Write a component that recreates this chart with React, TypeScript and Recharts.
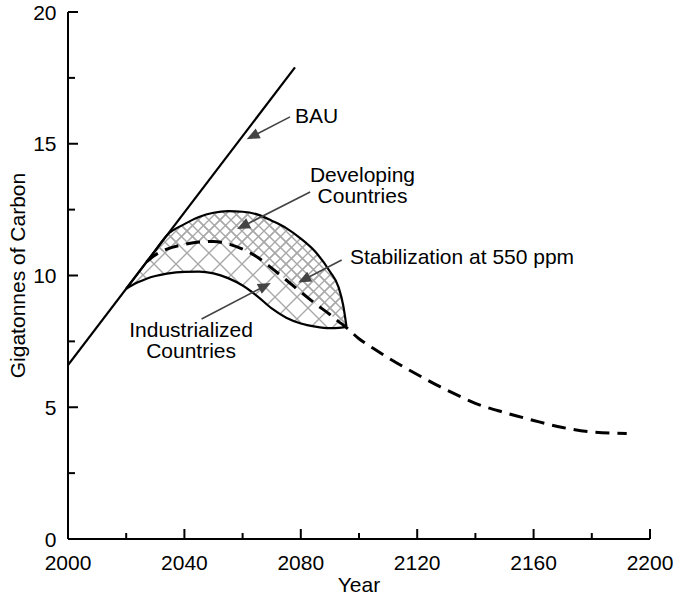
import React from 'react';
import { ComposedChart, Line, Area, XAxis, YAxis, ReferenceLine, ReferenceDot } from 'recharts';

const FONT = '"Liberation Sans", Arial, Helvetica, sans-serif';

// Business-as-usual line
const bauYears = [2000, 2078];
const bauValues = [6.6, 17.9];

// Band between industrialized (lower) and developing (upper) curves
const bandYears = [2020, 2024, 2027, 2030, 2034, 2040, 2045, 2050, 2055, 2060, 2065, 2070, 2075, 2080, 2085, 2090, 2093, 2094.6, 2095.7];
const industrialized = [9.5, 9.74, 9.88, 9.98, 10.07, 10.14, 10.15, 10.08, 9.9, 9.62, 9.22, 8.75, 8.4, 8.18, 8.06, 8.0, 8.01, 8.03, 8.06];
const developing = [9.5, 10.08, 10.52, 10.95, 11.53, 11.95, 12.22, 12.38, 12.44, 12.42, 12.32, 12.08, 11.8, 11.4, 10.9, 10.15, 9.55, 8.85, 8.06];

// Stabilization at 550 ppm (dashed)
const stabYears = [2027, 2030, 2034, 2040, 2045, 2050, 2055, 2060, 2065, 2070, 2075, 2080, 2085, 2090, 2093, 2094.6, 2095.7, 2100, 2105, 2110, 2116, 2122, 2128, 2134, 2140, 2150, 2160, 2170, 2180, 2192];
const stabilization = [10.52, 10.78, 11.0, 11.18, 11.27, 11.29, 11.2, 11.0, 10.7, 10.28, 9.83, 9.37, 8.93, 8.52, 8.25, 8.12, 8.02, 7.6, 7.23, 6.88, 6.49, 6.12, 5.77, 5.45, 5.15, 4.8, 4.5, 4.23, 4.06, 4.0];

// Tick values
const xTicks = [2000, 2020, 2040, 2060, 2080, 2100, 2120, 2140, 2160, 2180, 2200];
const yTicks = [0, 2.5, 5, 7.5, 10, 12.5, 15, 17.5, 20];

// Annotations (data coordinates)
const arrowFrom = [[2076.3, 16.02], [2083.2, 13.17], [2094.05, 10.59], [2045.9, 8.35]];
const arrowTo = [[2061.4, 15.17], [2058.1, 11.76], [2079.1, 9.73], [2069.7, 9.72]];
const labelLines = [['BAU'], ['Developing', 'Countries'], ['Stabilization at 550 ppm'], ['Industrialized', 'Countries']];
const labelAt = [[2078.0, 15.79], [2101.2, 13.55], [2096.9, 10.42], [2042.3, 7.67]];
const labelAnchor = ['start', 'middle', 'start', 'middle'];

const bauData = bauYears.map((year, i) => ({ year, v: bauValues[i] }));
const indData = bandYears.map((year, i) => ({ year, v: industrialized[i] }));
const devData = bandYears.map((year, i) => ({ year, v: developing[i] }));
const stabData = stabYears.map((year, i) => ({ year, v: stabilization[i] }));
const bandData = bandYears.map((year, i) => ({ year, range: [industrialized[i], developing[i]] }));
const upperBandData = stabYears
  .map((year, i) => ({ year, idx: bandYears.indexOf(year), s: stabilization[i] }))
  .filter((d) => d.idx >= 0)
  .map((d) => ({ year: d.year, range: [Math.min(d.s, developing[d.idx]), developing[d.idx]] }));

const isMajorX = (v: number) => (v - 2000) % 40 === 0;
const isMajorY = (v: number) => v % 5 === 0;

const BottomTick = (p: any) => {
  const { x, y, payload } = p;
  const v = payload.value;
  const major = isMajorX(v);
  return (
    <g>
      <line x1={x} y1={y} x2={x} y2={y - (major ? 10 : 6)} stroke="#000" strokeWidth={2} />
      {major && (
        <text x={x} y={y + 31} textAnchor="middle" fontSize={21} fontFamily={FONT} fill="#000">{v}</text>
      )}
    </g>
  );
};
const TopTick = (p: any) => {
  const { x, y, payload } = p;
  const major = isMajorX(payload.value);
  return <line x1={x} y1={y} x2={x} y2={y + (major ? 10 : 6)} stroke="#000" strokeWidth={2} />;
};
const LeftTick = (p: any) => {
  const { x, y, payload } = p;
  const v = payload.value;
  const major = isMajorY(v);
  return (
    <g>
      <line x1={x} y1={y} x2={x + (major ? 10 : 7)} y2={y} stroke="#000" strokeWidth={2} />
      {major && (
        <text x={x - 11.5} y={y + 7.5} textAnchor="end" fontSize={21} fontFamily={FONT} fill="#000">{v}</text>
      )}
    </g>
  );
};
const RightTick = (p: any) => {
  const { x, y, payload } = p;
  const major = isMajorY(payload.value);
  return <line x1={x} y1={y} x2={x - (major ? 10 : 6)} y2={y} stroke="#000" strokeWidth={2} />;
};

const XLabel = (p: any) => {
  const vb = p.viewBox || { x: 68, y: 539, width: 582, height: 60 };
  return (
    <text x={vb.x + vb.width / 2} y={vb.y + 53} textAnchor="middle" fontSize={21} fontFamily={FONT} fill="#000">Year</text>
  );
};
const YLabel = (p: any) => {
  const vb = p.viewBox || { x: 0, y: 12, width: 68, height: 527 };
  const cx = vb.x + 25;
  const cy = vb.y + vb.height / 2;
  return (
    <text x={cx} y={cy} transform={`rotate(-90, ${cx}, ${cy})`} textAnchor="middle" fontSize={21} fontFamily={FONT} fill="#000">
      Gigatonnes of Carbon
    </text>
  );
};

const Arrow = (p: any) => {
  const { x1, y1, x2, y2 } = p;
  const dx = x2 - x1;
  const dy = y2 - y1;
  const L = Math.hypot(dx, dy) || 1;
  const ux = dx / L;
  const uy = dy / L;
  const hl = 13;
  const hw = 5.5;
  const bx = x2 - ux * hl;
  const by = y2 - uy * hl;
  const pts = `${x2},${y2} ${bx - uy * hw},${by + ux * hw} ${bx + uy * hw},${by - ux * hw}`;
  return (
    <g>
      <line x1={x1} y1={y1} x2={bx + ux * 2} y2={by + uy * 2} stroke="#444" strokeWidth={1.6} />
      <polygon points={pts} fill="#444" />
    </g>
  );
};

const makeLabel = (i: number) => (p: any) => (
  <text x={p.cx} y={p.cy} textAnchor={labelAnchor[i] as any} fontSize={21} fontFamily={FONT} fill="#000">
    {labelLines[i].map((t, k) => (
      <tspan key={k} x={p.cx} dy={k === 0 ? 0 : 21}>{t}</tspan>
    ))}
  </text>
);

export default function App() {
  return (
    <div style={{ position: 'absolute', left: 0, top: 0, width: 678, height: 599, background: '#fff' }}>
      <ComposedChart width={678} height={599} margin={{ top: 12, right: 28, bottom: 0, left: 0 }}>
        <defs>
          <pattern id="hatchA" patternUnits="userSpaceOnUse" width="22" height="22">
            <path d="M-5,-5 L27,27 M27,-5 L-5,27" stroke="#a8a8a8" strokeWidth={1.4} />
          </pattern>
          <pattern id="hatchB" patternUnits="userSpaceOnUse" width="11" height="11">
            <path d="M-5,-5 L16,16 M16,-5 L-5,16" stroke="#a8a8a8" strokeWidth={1.4} />
          </pattern>
        </defs>
        <XAxis
          xAxisId="b"
          dataKey="year"
          type="number"
          domain={[2000, 2200]}
          ticks={xTicks}
          interval={0}
          height={60}
          tickSize={0}
          tickMargin={0}
          tickLine={false}
          allowDataOverflow
          axisLine={{ stroke: '#000', strokeWidth: 2 }}
          tick={BottomTick}
          label={<XLabel />}
        />
        <XAxis
          xAxisId="t"
          orientation="top"
          dataKey="year"
          type="number"
          domain={[2000, 2200]}
          ticks={xTicks}
          interval={0}
          height={0}
          tickSize={0}
          tickMargin={0}
          tickLine={false}
          allowDataOverflow
          axisLine={{ stroke: '#000', strokeWidth: 2 }}
          tick={TopTick}
        />
        <YAxis
          yAxisId="l"
          type="number"
          domain={[0, 20]}
          ticks={yTicks}
          interval={0}
          width={68}
          tickSize={0}
          tickMargin={0}
          tickLine={false}
          allowDataOverflow
          axisLine={{ stroke: '#000', strokeWidth: 2 }}
          tick={LeftTick}
          label={<YLabel />}
        />
        <YAxis
          yAxisId="r"
          orientation="right"
          type="number"
          domain={[0, 20]}
          ticks={yTicks}
          interval={0}
          width={0}
          tickSize={0}
          tickMargin={0}
          tickLine={false}
          allowDataOverflow
          axisLine={{ stroke: '#000', strokeWidth: 2 }}
          tick={RightTick}
        />
        <Area xAxisId="b" yAxisId="l" data={bandData} dataKey="range" type="monotone" fill="url(#hatchA)" fillOpacity={1} stroke="none" isAnimationActive={false} />
        <Area xAxisId="b" yAxisId="l" data={upperBandData} dataKey="range" type="monotone" fill="url(#hatchB)" fillOpacity={1} stroke="none" isAnimationActive={false} />
        <Line xAxisId="b" yAxisId="l" data={bauData} dataKey="v" type="linear" stroke="#000" strokeWidth={2.2} dot={false} isAnimationActive={false} />
        <Line xAxisId="b" yAxisId="l" data={indData} dataKey="v" type="monotone" stroke="#000" strokeWidth={2.2} dot={false} isAnimationActive={false} />
        <Line xAxisId="b" yAxisId="l" data={devData} dataKey="v" type="monotone" stroke="#000" strokeWidth={2.2} dot={false} isAnimationActive={false} />
        <Line xAxisId="b" yAxisId="l" data={stabData} dataKey="v" type="monotone" stroke="#000" strokeWidth={3} strokeDasharray="14 8" dot={false} isAnimationActive={false} />
        {arrowFrom.map((f, i) => (
          <ReferenceLine
            key={`a${i}`}
            xAxisId="b"
            yAxisId="l"
            segment={[{ x: f[0], y: f[1] }, { x: arrowTo[i][0], y: arrowTo[i][1] }]}
            shape={Arrow}
          />
        ))}
        {labelAt.map((l, i) => (
          <ReferenceDot key={`l${i}`} xAxisId="b" yAxisId="l" x={l[0]} y={l[1]} r={0} shape={makeLabel(i)} />
        ))}
      </ComposedChart>
    </div>
  );
}
